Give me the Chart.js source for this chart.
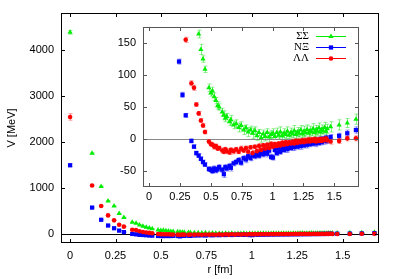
<!DOCTYPE html>
<html>
<head>
<meta charset="utf-8">
<script src="https://cdn.jsdelivr.net/npm/chart.js@4.4.0/dist/chart.umd.min.js"></script>
<style>
  html, body { margin: 0; padding: 0; background: #fff; }
  #wrap { position: relative; width: 399px; height: 279px; }
  #mainPlot { position: absolute; left: 0; top: 0; }
  #insetPlot { position: absolute; left: 100px; top: 20px; }
</style>
</head>
<body>
<div id="wrap">
  <canvas id="mainPlot" width="399" height="279"></canvas>
  <canvas id="insetPlot" width="265" height="190"></canvas>
</div>
<script>
// distances r [fm] (shared by all three channels)
const distR = [
  0, 0.121, 0.171, 0.209, 0.242, 0.270, 0.296, 0.342, 0.363, 0.382,
  0.401, 0.419, 0.436, 0.452, 0.484, 0.499, 0.513, 0.527, 0.541, 0.554,
  0.567, 0.592, 0.605, 0.617, 0.628, 0.651, 0.662, 0.684, 0.705, 0.725,
  0.745, 0.765, 0.784, 0.802, 0.821, 0.838, 0.856, 0.873, 0.890, 0.907,
  0.924, 0.940, 0.956, 0.972, 0.988, 1.003, 1.018, 1.034, 1.048, 1.063,
  1.078, 1.092, 1.106, 1.120, 1.134, 1.148, 1.162, 1.175, 1.189, 1.202,
  1.215, 1.228, 1.241, 1.254, 1.266, 1.279, 1.291, 1.303, 1.316, 1.328,
  1.340, 1.352, 1.363, 1.375, 1.387, 1.398, 1.410, 1.421, 1.432, 1.443,
  1.470, 1.539, 1.605, 1.675
];

// V [MeV]
const vSigSig = [
  4380, 1750, 1030, 715, 605, 440, 355, 250, 228, 190,
  164, 140, 125, 109, 80, 72, 75, 66, 60, 52,
  50, 42, 37, 33, 35, 27, 30, 22, 24, 18,
  21, 14, 17, 11, 14, 9, 13, 5, 10, 2,
  8, 4, 10, 3, 7, 9, 4, 10, 6, 11,
  5, 9, 7, 12, 6, 10, 8, 13, 7, 11,
  9, 14, 8, 12, 10, 15, 9, 13, 11, 16,
  10, 14, 12, 17, 11, 15, 13, 18, 12, 16,
  19, 22, 25, 31
];
const vNXi = [
  1490, 570, 305, 180, 121, 69, 37, -3, -12, -22,
  -26, -31, -36, -40, -47, -48, -50, -46, -49, -47,
  -44, -48, -55, -44, -46, -42, -45, -38, -36, -33,
  -37, -30, -32, -27, -30, -25, -27, -23, -26, -21,
  -24, -19, -23, -18, -28, -29, -17, -22, -15, -20,
  -14, -17, -12, -16, -11, -14, -10, -13, -9, -12,
  -8, -11, -7, -10, -6, -9, -5, -8, -5, -7,
  -3, -7, -2, -6, -1, -5, 0, -3, 2, -2,
  3, 5, 9, 14
];
const vLamLam = [
  2540, 1050, 605, 400, 292, 197, 155, 87, 80, 54,
  40, 29, 21, 11, -4, -8, -9, -12, -11, -15,
  -14, -18, -20, -16, -19, -21, -17, -19, -16, -20,
  -15, -18, -14, -20, -13, -22, -12, -19, -11, -17,
  -10, -15, -9, -14, -8, -12, -8, -11, -7, -10,
  -6, -9, -5, -8, -5, -7, -4, -7, -3, -6,
  -3, -5, -2, -5, -2, -4, -1, -4, -1, -3,
  0, -4, -1, -3, 0, -3, 0, -2, 1, -2,
  -4, -3, 1, 1
];

// statistical errors [MeV]
const errSigSig = [
  40, 15, 10, 8, 8, 7, 6, 6, 6, 5,
  6, 8, 5, 5, 6, 5, 6, 6, 5, 6,
  5, 6, 7, 6, 5, 6, 7, 6, 6, 7,
  6, 7, 5, 7, 6, 8, 6, 7, 5, 7,
  6, 7, 6, 8, 6, 7, 5, 7, 6, 8,
  6, 7, 6, 7, 5, 7, 6, 8, 6, 7,
  6, 7, 6, 8, 5, 7, 6, 7, 6, 8,
  6, 7, 6, 8, 6, 7, 5, 8, 6, 7,
  8, 8, 7, 8
];
const errNXi = [
  30, 10, 6, 5, 4, 4, 3, 3, 3, 3,
  3, 3, 3, 3, 4, 4, 4, 4, 4, 4,
  4, 4, 5, 4, 4, 4, 5, 4, 4, 4,
  4, 4, 5, 4, 4, 4, 4, 5, 4, 4,
  4, 4, 5, 4, 4, 4, 4, 4, 5, 4,
  4, 4, 4, 5, 4, 4, 4, 5, 4, 4,
  4, 5, 4, 4, 4, 5, 4, 4, 5, 4,
  4, 5, 4, 4, 5, 4, 4, 5, 4, 5,
  4, 4, 5, 5
];
const errLamLam = [
  70, 12, 7, 5, 4, 4, 4, 4, 4, 3,
  3, 3, 3, 3, 3, 3, 3, 4, 3, 3,
  3, 4, 3, 3, 4, 3, 3, 4, 3, 3,
  4, 3, 3, 4, 3, 4, 3, 3, 4, 3,
  3, 4, 3, 3, 4, 3, 3, 4, 3, 3,
  4, 3, 3, 4, 3, 3, 4, 3, 3, 4,
  3, 4, 3, 3, 4, 3, 4, 3, 3, 4,
  3, 4, 3, 4, 3, 4, 3, 4, 3, 4,
  4, 4, 4, 4
];

const seriesNames = ['ΣΣ', 'NΞ', 'ΛΛ'];
const mainXTicks = [0, 0.25, 0.5, 0.75, 1, 1.25, 1.5];
const mainYTicks = [0, 1000, 2000, 3000, 4000];
const insetXTicks = [0, 0.25, 0.5, 0.75, 1, 1.25, 1.5];
const insetYTicks = [-50, 0, 50, 100, 150];

const font = { family: 'Liberation Sans', size: 11 };
const styles = [
  { color: '#00ee00', err: 'rgba(0,220,0,0.45)', shape: 'triangle', radius: 3 },
  { color: '#0000ff', err: 'rgba(0,0,255,0.4)', shape: 'rect', radius: 3 },
  { color: '#ff0000', err: 'rgba(255,0,0,0.4)', shape: 'circle', radius: 2.3 }
];

function makeDatasets() {
  const vals = [vSigSig, vNXi, vLamLam];
  const errs = [errSigSig, errNXi, errLamLam];
  return vals.map((v, k) => ({
    label: seriesNames[k],
    data: distR.map((r, i) => ({ x: r, y: v[i] })),
    err: errs[k],
    errColor: styles[k].err,
    showLine: false,
    pointStyle: styles[k].shape,
    pointRadius: styles[k].radius,
    pointBorderWidth: 0,
    pointBackgroundColor: styles[k].color,
    borderColor: styles[k].color,
    order: 3 - k
  }));
}

const errorBars = {
  id: 'errorBars',
  beforeDatasetsDraw(chart) {
    const { ctx, chartArea: a, scales: { x, y } } = chart;
    ctx.save();
    ctx.beginPath();
    ctx.rect(a.left, a.top, a.right - a.left, a.bottom - a.top);
    ctx.clip();
    ctx.lineWidth = 1;
    chart.data.datasets.forEach(ds => {
      ctx.strokeStyle = ds.errColor;
      ds.data.forEach((p, i) => {
        const px = Math.round(x.getPixelForValue(p.x)) + 0.5;
        const lo = y.getPixelForValue(p.y - ds.err[i]);
        const hi = y.getPixelForValue(p.y + ds.err[i]);
        ctx.beginPath();
        ctx.moveTo(px, lo); ctx.lineTo(px, hi);
        ctx.moveTo(px - 2, lo); ctx.lineTo(px + 2, lo);
        ctx.moveTo(px - 2, hi); ctx.lineTo(px + 2, hi);
        ctx.stroke();
      });
    });
    ctx.restore();
  }
};

// gnuplot-like frame with inward ticks on all four sides, plus the V=0 line
function frame(opts) {
  return {
    id: 'frame',
    beforeDraw(chart) {
      if (!opts.fill) return;
      const { ctx, chartArea: a } = chart;
      ctx.save();
      ctx.fillStyle = '#fff';
      ctx.fillRect(a.left, a.top, a.right - a.left, a.bottom - a.top);
      ctx.restore();
    },
    beforeDatasetsDraw(chart) {
      const { ctx, chartArea: a, scales: { y } } = chart;
      const y0 = Math.round(y.getPixelForValue(0)) + 0.5;
      ctx.save();
      ctx.strokeStyle = opts.zero;
      ctx.lineWidth = 1;
      ctx.beginPath();
      ctx.moveTo(a.left, y0); ctx.lineTo(a.right, y0);
      ctx.stroke();
      ctx.restore();
    },
    afterDatasetsDraw(chart) {
      const { ctx, chartArea: a, scales: { x, y } } = chart;
      const t = opts.tick;
      ctx.save();
      ctx.strokeStyle = opts.border;
      ctx.lineWidth = 1;
      ctx.beginPath();
      opts.xTicks.forEach(v => {
        const px = Math.round(x.getPixelForValue(v)) + 0.5;
        ctx.moveTo(px, a.bottom); ctx.lineTo(px, a.bottom - t);
        ctx.moveTo(px, a.top); ctx.lineTo(px, a.top + t);
      });
      opts.yTicks.forEach(v => {
        const py = Math.round(y.getPixelForValue(v)) + 0.5;
        ctx.moveTo(a.left, py); ctx.lineTo(a.left + t, py);
        ctx.moveTo(a.right, py); ctx.lineTo(a.right - t, py);
      });
      ctx.stroke();
      ctx.strokeRect(a.left + 0.5, a.top + 0.5, a.right - a.left - 1, a.bottom - a.top - 1);
      ctx.restore();
    }
  };
}

const insetLegend = {
  id: 'insetLegend',
  afterDraw(chart) {
    const { ctx, chartArea: a } = chart;
    ctx.save();
    ctx.font = '11px "Liberation Serif"';
    ctx.textAlign = 'right';
    ctx.textBaseline = 'middle';
    seriesNames.forEach((name, k) => {
      const yy = a.top + 9.5 + k * 11;
      ctx.fillStyle = '#000';
      ctx.fillText(name, a.right - 50, yy);
      ctx.strokeStyle = styles[k].color;
      ctx.lineWidth = 1;
      ctx.beginPath();
      ctx.moveTo(a.right - 43, yy); ctx.lineTo(a.right - 13, yy);
      ctx.stroke();
      ctx.fillStyle = styles[k].color;
      Chart.helpers.drawPoint(ctx, {
        pointStyle: styles[k].shape, radius: styles[k].radius, rotation: 0, borderWidth: 0
      }, a.right - 28, yy);
    });
    ctx.restore();
  }
};

// fixed axis box sizes; zeroing the label overhang keeps the plot area exactly where it is set
function axis(min, max, ticks, size, pad, title) {
  const cfg = {
    type: 'linear', min, max,
    afterBuildTicks: s => { s.ticks = ticks.map(v => ({ value: v })); },
    afterFit: s => {
      if (s.isHorizontal()) s.height = size; else s.width = size;
      s.paddingTop = 0; s.paddingBottom = 0; s.paddingLeft = 0; s.paddingRight = 0;
    },
    grid: { display: false, drawTicks: false },
    border: { display: false },
    ticks: { padding: pad, color: '#000', font, maxRotation: 0, autoSkip: false, callback: v => String(v) }
  };
  if (title) cfg.title = title;
  return cfg;
}

new Chart(document.getElementById('mainPlot'), {
  type: 'scatter',
  data: { datasets: makeDatasets() },
  options: {
    responsive: false, animation: false, devicePixelRatio: 1,
    layout: { padding: { top: 13, right: 20, left: 0, bottom: 0 } },
    plugins: { legend: { display: false }, tooltip: { enabled: false } },
    scales: {
      x: axis(-0.05, 1.7, mainXTicks, 36, 6,
        { display: true, text: 'r [fm]', color: '#000', font, padding: { top: 0, bottom: 2 } }),
      y: axis(-200, 4800, mainYTicks, 61, 7,
        { display: true, text: 'V [MeV]', color: '#000', font, padding: { top: 5, bottom: 0 } })
    }
  },
  plugins: [errorBars, frame({ xTicks: mainXTicks, yTicks: mainYTicks, tick: 4, border: '#000', zero: '#000' })]
});

new Chart(document.getElementById('insetPlot'), {
  type: 'scatter',
  data: { datasets: makeDatasets() },
  options: {
    responsive: false, animation: false, devicePixelRatio: 1,
    layout: { padding: { top: 7, right: 6, left: 0, bottom: 0 } },
    plugins: { legend: { display: false }, tooltip: { enabled: false } },
    scales: {
      x: axis(-0.05, 1.7, insetXTicks, 23, 3),
      y: axis(-75, 175, insetYTicks, 43, 7)
    }
  },
  plugins: [errorBars, frame({ xTicks: insetXTicks, yTicks: insetYTicks, tick: 4, border: '#555', zero: '#888', fill: true }), insetLegend]
});
</script>
</body>
</html>
